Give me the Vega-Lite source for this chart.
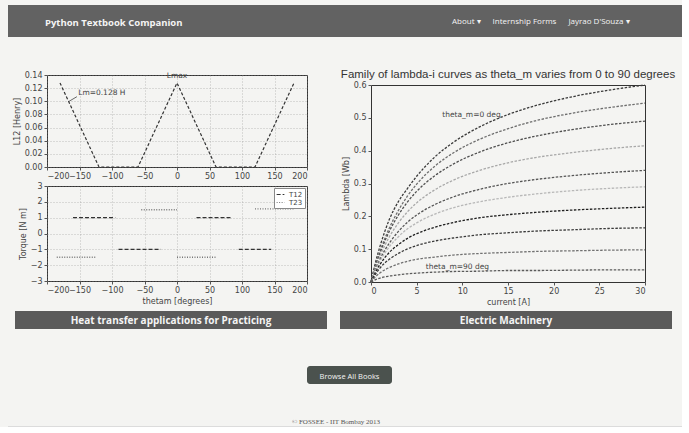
{
  "$schema": "https://vega.github.io/schema/vega-lite/v6.json",
  "background": "#f4f4f2",
  "padding": {"left": 8, "top": 5, "right": 0, "bottom": 0},
  "spacing": 31,
  "resolve": {"scale": {"color": "independent", "strokeDash": "independent"}, "legend": {"color": "independent", "strokeDash": "independent"}},
  "config": {
    "font": "DejaVu Sans",
    "view": {"stroke": "#333", "strokeWidth": 1},
    "axis": {"labelFontSize": 8, "titleFontSize": 8, "labelColor": "#444", "titleColor": "#444", "titleFontWeight": "normal", "domain": false, "tickColor": "#555", "tickSize": 3, "labelPadding": 2, "titlePadding": 3, "gridColor": "#888", "gridDash": [1, 2], "gridOpacity": 0.5, "labelOverlap": false}
  },
  "vconcat": [
    {
      "hconcat": [
        {
          "width": 430, "height": 32,
          "view": {"stroke": null},
          "data": {"values": [{}]},
          "mark": {"type": "rect", "color": "#626262"},
          "encoding": {},
          "title": {"text": "Python Textbook Companion", "orient": "top", "anchor": "start", "offset": -22, "dx": 37, "font": "Open Sans", "fontSize": 9.5, "fontWeight": "bold", "color": "#f4f4f4"}
        },
        {
          "width": 244, "height": 32,
          "view": {"stroke": null},
          "data": {"values": [{}]},
          "mark": {"type": "rect", "color": "#626262"},
          "encoding": {},
          "title": {"text": "About ▾\u2003\u2002Internship Forms\u2003\u2002Jayrao D'Souza ▾", "orient": "top", "anchor": "start", "offset": -21, "dx": 14, "font": "Open Sans", "fontSize": 8, "fontWeight": "normal", "color": "#f4f4f4"}
        }
      ],
      "spacing": 0
    },
    {
      "spacing": 37,
      "resolve": {"scale": {"color": "independent", "strokeDash": "independent"}, "legend": {"color": "independent", "strokeDash": "independent"}},
      "vconcat": [
        {
          "spacing": 4,
          "resolve": {"scale": {"color": "independent", "strokeDash": "independent"}, "legend": {"color": "independent", "strokeDash": "independent"}},
          "vconcat": [
            {
              "spacing": 3,
              "resolve": {"scale": {"color": "independent", "strokeDash": "independent"}, "legend": {"color": "independent", "strokeDash": "independent"}},
              "hconcat": [
                {"width": 1, "height": 1, "view": {"stroke": null}, "data": {"values": []}, "mark": "point", "encoding": {}},
                {
                  "spacing": 32,
                  "resolve": {"scale": {"color": "independent", "strokeDash": "independent"}, "legend": {"color": "independent", "strokeDash": "independent"}},
                  "hconcat": [
                    {
                      "spacing": 0,
                      "resolve": {"scale": {"color": "independent", "strokeDash": "independent"}, "legend": {"color": "independent", "strokeDash": "independent"}},
                      "vconcat": [
                        {
                          "width": 260, "height": 92,
                          "layer": [
                            {
                              "data": {"values": [
                                {"th": -180, "L": 0.128}, {"th": -120, "L": 0}, {"th": -60, "L": 0},
                                {"th": 0, "L": 0.128}, {"th": 60, "L": 0}, {"th": 120, "L": 0}, {"th": 180, "L": 0.128}
                              ]},
                              "mark": {"type": "line", "color": "#333", "strokeDash": [3, 2], "strokeWidth": 1.2},
                              "encoding": {
                                "x": {"field": "th", "type": "quantitative", "scale": {"domain": [-200, 200], "nice": false}, "axis": {"values": [-200, -150, -100, -50, 0, 50, 100, 150, 200], "tickCount": 30, "title": null, "grid": true}},
                                "y": {"field": "L", "type": "quantitative", "scale": {"domain": [0, 0.14], "nice": false}, "axis": {"values": [0, 0.02, 0.04, 0.06, 0.08, 0.1, 0.12, 0.14], "tickCount": 30, "format": ".2f", "title": "L12 [Henry]", "grid": true}}
                              }
                            },
                            {
                              "data": {"values": [{"th": -154, "L": 0.107, "th2": -166, "L2": 0.1}]},
                              "mark": {"type": "rule", "color": "#444", "strokeWidth": 0.8},
                              "encoding": {
                                "x": {"field": "th", "type": "quantitative"},
                                "x2": {"field": "th2"},
                                "y": {"field": "L", "type": "quantitative"},
                                "y2": {"field": "L2"}
                              }
                            },
                            {
                              "data": {"values": [{"th": -152, "L": 0.113, "t": "Lm=0.128 H"}]},
                              "mark": {"type": "text", "fontSize": 7.5, "color": "#444", "align": "left", "baseline": "middle"},
                              "encoding": {
                                "x": {"field": "th", "type": "quantitative"},
                                "y": {"field": "L", "type": "quantitative"},
                                "text": {"field": "t"}
                              }
                            },
                            {
                              "data": {"values": [{"th": 0, "L": 0.138, "t": "Lmax"}]},
                              "mark": {"type": "text", "fontSize": 7.5, "color": "#444", "align": "center", "baseline": "middle"},
                              "encoding": {
                                "x": {"field": "th", "type": "quantitative"},
                                "y": {"field": "L", "type": "quantitative"},
                                "text": {"field": "t"}
                              }
                            }
                          ]
                        },
                        {
                          "width": 260, "height": 95,
                          "data": {"values": [
                            {"s": "T12", "x": -160, "x2": -95, "y": 1},
                            {"s": "T12", "x": 30, "x2": 85, "y": 1},
                            {"s": "T12", "x": -90, "x2": -25, "y": -1},
                            {"s": "T12", "x": 95, "x2": 145, "y": -1},
                            {"s": "T23", "x": -55, "x2": 0, "y": 1.5},
                            {"s": "T23", "x": 120, "x2": 180, "y": 1.55},
                            {"s": "T23", "x": -185, "x2": -125, "y": -1.5},
                            {"s": "T23", "x": 0, "x2": 60, "y": -1.5}
                          ]},
                          "mark": {"type": "rule", "strokeWidth": 1.3},
                          "encoding": {
                            "x": {"field": "x", "type": "quantitative", "scale": {"domain": [-200, 200], "nice": false}, "axis": {"values": [-200, -150, -100, -50, 0, 50, 100, 150, 200], "tickCount": 30, "title": "thetam [degrees]", "grid": true}},
                            "x2": {"field": "x2"},
                            "y": {"field": "y", "type": "quantitative", "scale": {"domain": [-3, 3], "nice": false}, "axis": {"values": [-3, -2, -1, 0, 1, 2, 3], "tickCount": 30, "format": "d", "title": "Torque [N m]", "grid": true}},
                            "color": {"field": "s", "type": "nominal", "scale": {"domain": ["T12", "T23"], "range": ["#333", "#777"]}, "legend": {"orient": "top-right", "title": null, "labelFontSize": 7, "symbolType": "stroke", "symbolSize": 60, "rowPadding": 0, "padding": 2, "strokeColor": "#888", "fillColor": "#fff", "offset": 2, "symbolStrokeWidth": 1.2, "labelColor": "#444"}},
                            "strokeDash": {"field": "s", "type": "nominal", "scale": {"domain": ["T12", "T23"], "range": [[4, 2], [1, 1.5]]}}
                          }
                        }
                      ]
                    },
                    {
                      "spacing": 0,
                      "vconcat": [
                        {
                          "width": 274, "height": 4,
                          "view": {"stroke": null},
                          "data": {"values": []},
                          "mark": "point",
                          "encoding": {},
                          "title": {"text": "Family of lambda-i curves as theta_m varies from 0 to 90 degrees", "orient": "top", "anchor": "middle", "offset": -5, "font": "Liberation Sans", "fontSize": 11.5, "fontWeight": "normal", "color": "#333"}
                        },
                        {
                          "width": 274, "height": 197,
                          "layer": [
                            {
                              "data": {"values": [
                                {"i": 0, "t0": 0, "t10": 0, "t20": 0, "t30": 0, "t40": 0, "t50": 0, "t60": 0, "t70": 0, "t80": 0, "t90": 0},
                                {"i": 0.5, "t0": 0.06, "t10": 0.05, "t20": 0.048, "t30": 0.0435, "t40": 0.038, "t50": 0.035, "t60": 0.03, "t70": 0.024, "t80": 0.016, "t90": 0.007},
                                {"i": 1, "t0": 0.11, "t10": 0.094, "t20": 0.089, "t30": 0.08, "t40": 0.07, "t50": 0.064, "t60": 0.054, "t70": 0.043, "t80": 0.028, "t90": 0.012},
                                {"i": 2, "t0": 0.19, "t10": 0.164, "t20": 0.154, "t30": 0.137, "t40": 0.118, "t50": 0.107, "t60": 0.09, "t70": 0.069, "t80": 0.044, "t90": 0.018},
                                {"i": 3, "t0": 0.245, "t10": 0.218, "t20": 0.204, "t30": 0.18, "t40": 0.154, "t50": 0.138, "t60": 0.114, "t70": 0.087, "t80": 0.055, "t90": 0.022},
                                {"i": 4, "t0": 0.285, "t10": 0.262, "t20": 0.244, "t30": 0.214, "t40": 0.182, "t50": 0.162, "t60": 0.133, "t70": 0.101, "t80": 0.063, "t90": 0.025},
                                {"i": 5, "t0": 0.322, "t10": 0.298, "t20": 0.276, "t30": 0.241, "t40": 0.204, "t50": 0.18, "t60": 0.147, "t70": 0.111, "t80": 0.069, "t90": 0.027},
                                {"i": 7, "t0": 0.381, "t10": 0.353, "t20": 0.324, "t30": 0.281, "t40": 0.236, "t50": 0.207, "t60": 0.167, "t70": 0.125, "t80": 0.076, "t90": 0.03},
                                {"i": 9, "t0": 0.425, "t10": 0.393, "t20": 0.359, "t30": 0.31, "t40": 0.259, "t50": 0.226, "t60": 0.181, "t70": 0.134, "t80": 0.082, "t90": 0.032},
                                {"i": 12, "t0": 0.474, "t10": 0.436, "t20": 0.397, "t30": 0.341, "t40": 0.283, "t50": 0.245, "t60": 0.196, "t70": 0.144, "t80": 0.087, "t90": 0.033},
                                {"i": 15, "t0": 0.51, "t10": 0.467, "t20": 0.424, "t30": 0.363, "t40": 0.3, "t50": 0.258, "t60": 0.205, "t70": 0.15, "t80": 0.09, "t90": 0.035},
                                {"i": 18, "t0": 0.537, "t10": 0.491, "t20": 0.444, "t30": 0.379, "t40": 0.312, "t50": 0.268, "t60": 0.212, "t70": 0.155, "t80": 0.093, "t90": 0.035},
                                {"i": 22, "t0": 0.564, "t10": 0.514, "t20": 0.464, "t30": 0.394, "t40": 0.324, "t50": 0.278, "t60": 0.219, "t70": 0.159, "t80": 0.095, "t90": 0.036},
                                {"i": 26, "t0": 0.584, "t10": 0.531, "t20": 0.479, "t30": 0.406, "t40": 0.333, "t50": 0.285, "t60": 0.224, "t70": 0.163, "t80": 0.097, "t90": 0.037},
                                {"i": 30, "t0": 0.6, "t10": 0.545, "t20": 0.49, "t30": 0.415, "t40": 0.34, "t50": 0.29, "t60": 0.228, "t70": 0.165, "t80": 0.098, "t90": 0.037}
                              ]},
                              "transform": [{"fold": ["t0", "t10", "t20", "t30", "t40", "t50", "t60", "t70", "t80", "t90"], "as": ["theta", "lam"]}],
                              "mark": {"type": "line", "strokeDash": [2.5, 1.5], "strokeWidth": 1.3, "interpolate": "monotone"},
                              "encoding": {
                                "x": {"field": "i", "type": "quantitative", "scale": {"domain": [0, 30], "nice": false}, "axis": {"values": [0, 5, 10, 15, 20, 25, 30], "tickCount": 30, "title": "current [A]", "grid": false}},
                                "y": {"field": "lam", "type": "quantitative", "scale": {"domain": [0, 0.6], "nice": false}, "axis": {"values": [0, 0.1, 0.2, 0.3, 0.4, 0.5, 0.6], "tickCount": 30, "format": ".1f", "title": "Lambda [Wb]", "grid": false}},
                                "color": {"field": "theta", "type": "nominal", "scale": {"domain": ["t0", "t10", "t20", "t30", "t40", "t50", "t60", "t70", "t80", "t90"], "range": ["#3a3a3a", "#6e6e6e", "#4f4f4f", "#a8a8a8", "#555555", "#b8b8b8", "#1e1e1e", "#3a3a3a", "#707070", "#5a5a5a"]}, "legend": null}
                              }
                            },
                            {
                              "data": {"values": [
                                {"i": 7.8, "lam": 0.51, "t": "theta_m=0 deg"},
                                {"i": 6, "lam": 0.047, "t": "theta_m=90 deg"}
                              ]},
                              "mark": {"type": "text", "fontSize": 7.5, "color": "#444", "align": "left", "baseline": "middle"},
                              "encoding": {
                                "x": {"field": "i", "type": "quantitative"},
                                "y": {"field": "lam", "type": "quantitative"},
                                "text": {"field": "t"}
                              }
                            }
                          ]
                        }
                      ]
                    }
                  ]
                }
              ]
            },
            {
              "spacing": 6,
              "hconcat": [
                {"width": 1, "height": 1, "view": {"stroke": null}, "data": {"values": []}, "mark": "point", "encoding": {}},
                {
                  "spacing": 13,
                  "hconcat": [
                    {
                      "width": 312, "height": 18,
                      "view": {"stroke": null},
                      "data": {"values": [{}]},
                      "mark": {"type": "rect", "color": "#5a5a5a"},
                      "encoding": {},
                      "title": {"text": "Heat transfer applications for Practicing", "orient": "top", "anchor": "middle", "offset": -15, "font": "Open Sans", "fontSize": 10, "fontWeight": "bold", "color": "#f4f4f4"}
                    },
                    {
                      "width": 332, "height": 18,
                      "view": {"stroke": null},
                      "data": {"values": [{}]},
                      "mark": {"type": "rect", "color": "#5a5a5a"},
                      "encoding": {},
                      "title": {"text": "Electric Machinery", "orient": "top", "anchor": "middle", "offset": -15, "font": "Open Sans", "fontSize": 10, "fontWeight": "bold", "color": "#f4f4f4"}
                    }
                  ]
                }
              ]
            }
          ]
        },
        {
          "spacing": 34,
          "vconcat": [
            {
              "spacing": 298,
              "hconcat": [
                {"width": 1, "height": 1, "view": {"stroke": null}, "data": {"values": []}, "mark": "point", "encoding": {}},
                {
                  "width": 85, "height": 18,
                  "view": {"stroke": null},
                  "data": {"values": [{}]},
                  "mark": {"type": "rect", "color": "#4b524e", "cornerRadius": 3},
                  "encoding": {},
                  "title": {"text": "Browse All Books", "orient": "top", "anchor": "middle", "offset": -14, "font": "Open Sans", "fontSize": 7.5, "fontWeight": "normal", "color": "#f4f4f4"}
                }
              ]
            },
            {
              "width": 674, "height": 1,
              "view": {"stroke": null},
              "data": {"values": [{}]},
              "mark": {"type": "rect", "color": "#dcdcdc"},
              "encoding": {},
              "title": {"text": "© FOSSEE - IIT Bombay 2013", "orient": "top", "anchor": "middle", "offset": 1, "dx": -9, "font": "Liberation Serif", "fontSize": 7, "fontWeight": "normal", "color": "#555"}
            }
          ]
        }
      ]
    }
  ]
}
